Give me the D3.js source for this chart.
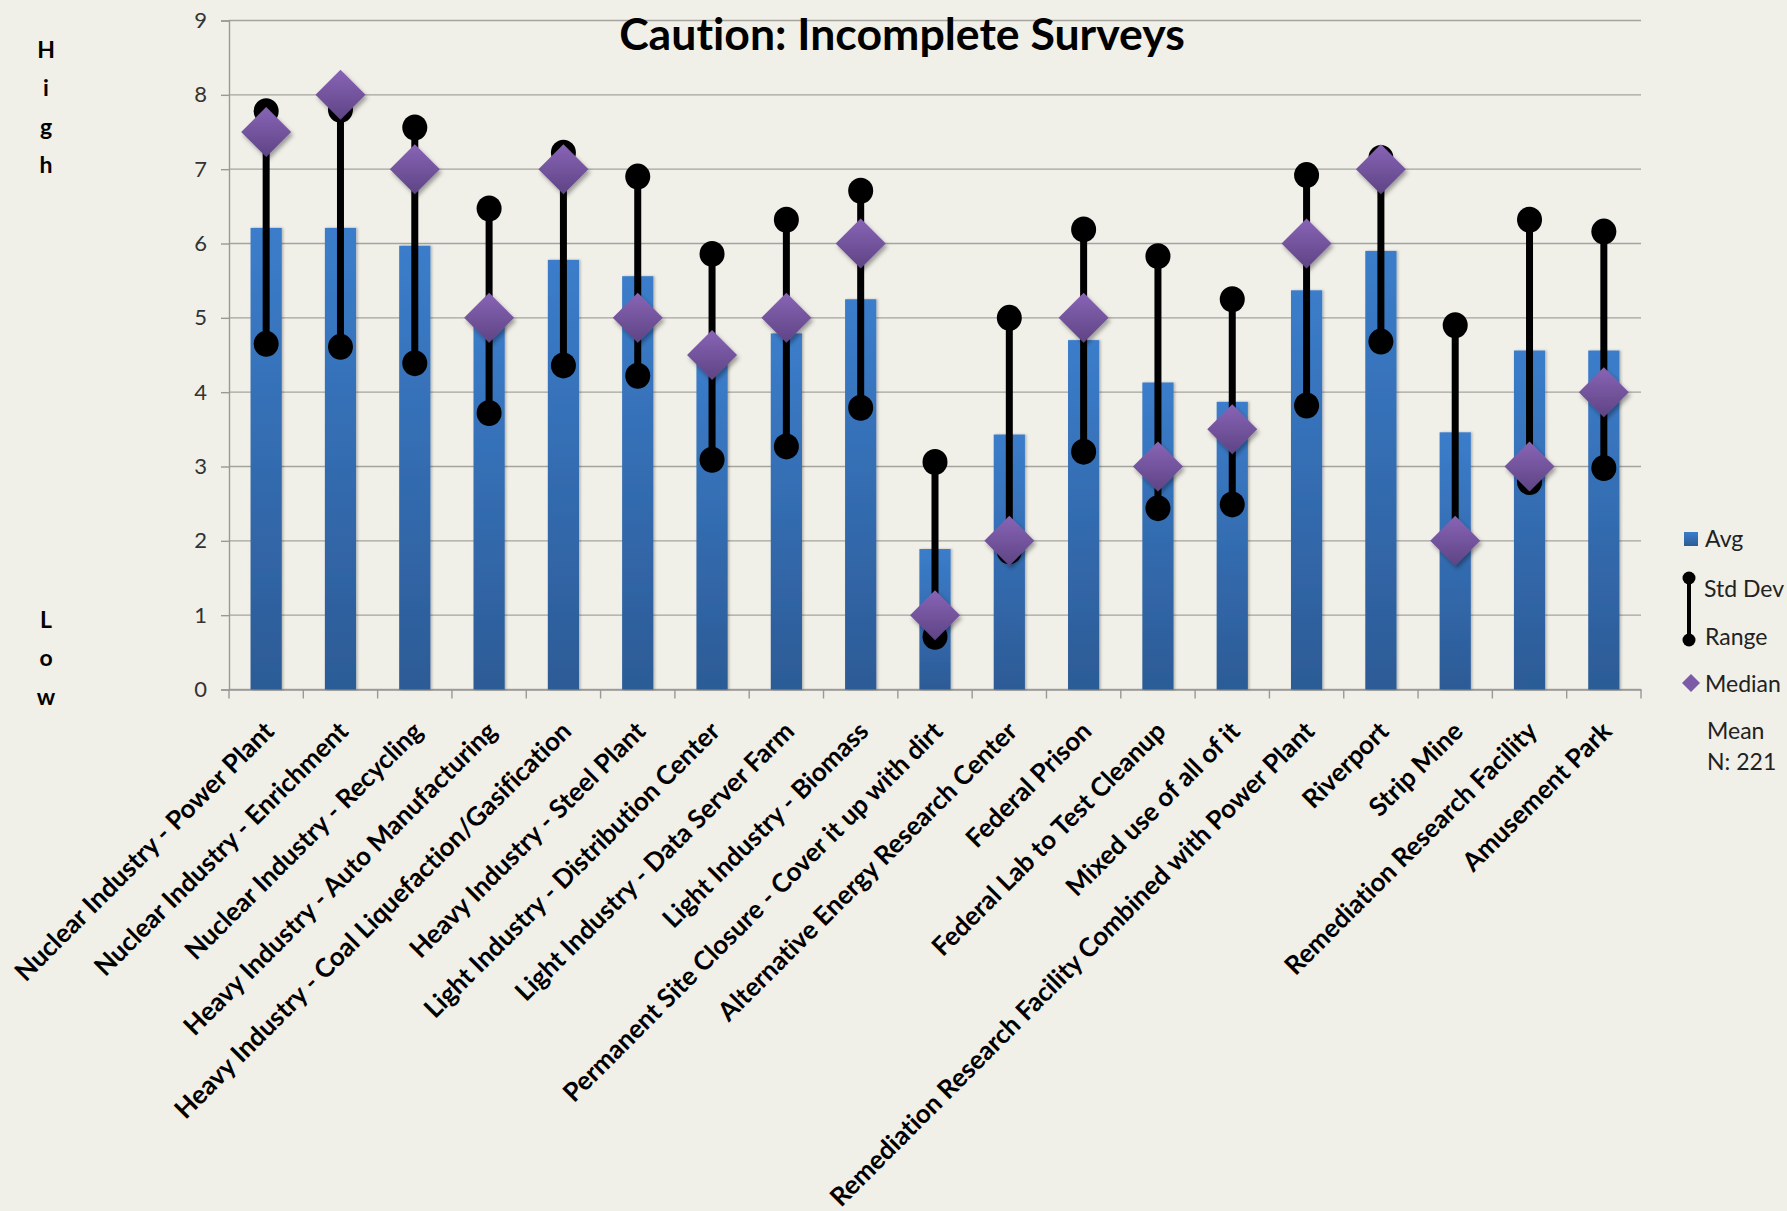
<!DOCTYPE html>
<html><head><meta charset="utf-8">
<script src="https://cdn.jsdelivr.net/npm/d3@7"></script>
<style>
html,body{margin:0;padding:0;background:#f0efe8;}
svg{display:block;}
text{font-variant-ligatures:none;}
</style>
</head><body>
<svg id="chart" width="1787" height="1211"></svg>
<script>
// ---------- DATA ----------
const categories = [
  "Nuclear Industry - Power Plant",
  "Nuclear Industry - Enrichment",
  "Nuclear Industry - Recycling",
  "Heavy Industry - Auto Manufacturing",
  "Heavy Industry - Coal Liquefaction/Gasification",
  "Heavy Industry - Steel Plant",
  "Light Industry - Distribution Center",
  "Light Industry - Data Server Farm",
  "Light Industry - Biomass",
  "Permanent Site Closure - Cover it up with dirt",
  "Alternative Energy Research Center",
  "Federal Prison",
  "Federal Lab to Test Cleanup",
  "Mixed use of all of it",
  "Remediation Research Facility Combined with Power Plant",
  "Riverport",
  "Strip Mine",
  "Remediation Research Facility",
  "Amusement Park"
];
const avgValues    = [6.21, 6.21, 5.97, 5.09, 5.78, 5.56, 4.47, 4.79, 5.25, 1.89, 3.43, 4.70, 4.13, 3.87, 5.37, 5.90, 3.46, 4.56, 4.56];
const stdDevUpper  = [7.78, 7.80, 7.56, 6.47, 7.22, 6.90, 5.86, 6.32, 6.71, 3.06, 5.00, 6.19, 5.83, 5.25, 6.92, 7.15, 4.90, 6.32, 6.16];
const stdDevLower  = [4.65, 4.61, 4.39, 3.72, 4.36, 4.22, 3.09, 3.27, 3.79, 0.71, 1.86, 3.20, 2.44, 2.49, 3.82, 4.68, 2.02, 2.79, 2.98];
const medianValues = [7.5, 8, 7, 5, 7, 5, 4.5, 5, 6, 1, 2, 5, 3, 3.5, 6, 7, 2, 3, 4];
const yTickValues  = [0, 1, 2, 3, 4, 5, 6, 7, 8, 9];
const titleText = "Caution: Incomplete Surveys";
const highLetters = ["H", "i", "g", "h"];
const lowLetters = ["L", "o", "w"];
const legendLabels = ["Avg", "Std Dev", "Range", "Median"];
const noteLines = ["Mean", "N: 221"];

// ---------- LAYOUT ----------
const W = 1787, H = 1211;
const plot = {left: 229, right: 1641, top: 20.5, bottom: 689.5};
const FONT = "Lato, 'Open Sans', 'DejaVu Sans', sans-serif";

const rows = categories.map((c, i) => ({
  cat: c, avg: avgValues[i], hi: stdDevUpper[i], lo: stdDevLower[i], med: medianValues[i]
}));

const svg = d3.select("#chart");
svg.append("rect").attr("width", W).attr("height", H).attr("fill", "#f0efe8");

const defs = svg.append("defs");
const bg = defs.append("linearGradient").attr("id", "barGrad")
  .attr("x1", 0).attr("y1", 0).attr("x2", 0).attr("y2", 1);
bg.append("stop").attr("offset", "0%").attr("stop-color", "#3b7dcb");
bg.append("stop").attr("offset", "100%").attr("stop-color", "#2c5b96");
const dg = defs.append("linearGradient").attr("id", "diaGrad")
  .attr("x1", 0).attr("y1", 0).attr("x2", 0).attr("y2", 1);
dg.append("stop").attr("offset", "0%").attr("stop-color", "#8864b6");
dg.append("stop").attr("offset", "100%").attr("stop-color", "#5e4484");
const sh = defs.append("filter").attr("id", "shadow")
  .attr("x", "-40%").attr("y", "-40%").attr("width", "180%").attr("height", "180%");
sh.append("feDropShadow").attr("dx", 2).attr("dy", 3).attr("stdDeviation", 2.2)
  .attr("flood-color", "#000").attr("flood-opacity", 0.35);
const bsh = defs.append("filter").attr("id", "barShadow")
  .attr("x", "-20%").attr("y", "-5%").attr("width", "140%").attr("height", "110%");
bsh.append("feDropShadow").attr("dx", 1.5).attr("dy", 0).attr("stdDeviation", 1.2)
  .attr("flood-color", "#000").attr("flood-opacity", 0.25);

const x = d3.scaleBand().domain(categories).range([plot.left, plot.right]).paddingInner(0).paddingOuter(0);
const y = d3.scaleLinear().domain([0, 9]).range([plot.bottom, plot.top]);
const barW = x.bandwidth() * 0.42;
const cx = d => x(d) + x.bandwidth() / 2;

// gridlines
svg.append("g").selectAll("line").data(yTickValues).join("line")
  .attr("x1", plot.left).attr("x2", plot.right)
  .attr("y1", d => y(d)).attr("y2", d => y(d))
  .attr("stroke", "#a4a39e").attr("stroke-width", 1.4);

// y axis
const yAxis = svg.append("g").attr("transform", `translate(${plot.left},0)`)
  .call(d3.axisLeft(y).tickValues(yTickValues).tickSize(8).tickPadding(14).tickFormat(d3.format("d")));
yAxis.select(".domain").attr("stroke", "#9a9994").attr("stroke-width", 1.4);
yAxis.selectAll(".tick line").attr("stroke", "#9a9994").attr("stroke-width", 1.4);
yAxis.selectAll(".tick text").attr("font-family", FONT).attr("font-size", 22).attr("fill", "#333");

// x axis (ticks between categories)
const xAxis = svg.append("g").attr("transform", `translate(0,${plot.bottom})`)
  .call(d3.axisBottom(x).tickSize(0).tickFormat(""));
xAxis.select(".domain").attr("stroke", "#9a9994").attr("stroke-width", 1.4);
const boundaries = categories.map(c => x(c)).concat([plot.right]);
svg.append("g").selectAll("line").data(boundaries).join("line")
  .attr("x1", d => d).attr("x2", d => d)
  .attr("y1", plot.bottom).attr("y2", plot.bottom + 9)
  .attr("stroke", "#9a9994").attr("stroke-width", 1.4);

// bars
svg.append("g").selectAll("rect").data(rows).join("rect")
  .attr("x", d => cx(d.cat) - barW / 2)
  .attr("y", d => y(d.avg))
  .attr("width", barW)
  .attr("height", d => y(0) - y(d.avg))
  .attr("fill", "url(#barGrad)")
  .attr("filter", "url(#barShadow)");

// std dev whiskers
const wg = svg.append("g");
wg.selectAll("line").data(rows).join("line")
  .attr("x1", d => cx(d.cat)).attr("x2", d => cx(d.cat))
  .attr("y1", d => y(d.hi)).attr("y2", d => y(d.lo))
  .attr("stroke", "#000").attr("stroke-width", 7);
wg.selectAll("ellipse.hi").data(rows).join("ellipse").attr("class", "hi")
  .attr("cx", d => cx(d.cat)).attr("cy", d => y(d.hi))
  .attr("rx", 12.5).attr("ry", 13).attr("fill", "#000");
wg.selectAll("ellipse.lo").data(rows).join("ellipse").attr("class", "lo")
  .attr("cx", d => cx(d.cat)).attr("cy", d => y(d.lo))
  .attr("rx", 12.5).attr("ry", 13).attr("fill", "#000");

// median diamonds
const dh = 25;
svg.append("g").selectAll("path").data(rows).join("path")
  .attr("d", d => {
    const px = cx(d.cat), py = y(d.med);
    return `M${px},${py - dh}L${px + dh},${py}L${px},${py + dh}L${px - dh},${py}Z`;
  })
  .attr("fill", "url(#diaGrad)")
  .attr("filter", "url(#shadow)");

// x labels
const xl = svg.append("g").selectAll("text").data(categories).join("text")
  .attr("transform", d => `translate(${cx(d) + 3},${plot.bottom + 37}) rotate(-45)`)
  .attr("text-anchor", "end")
  .attr("dy", "0.35em")
  .attr("font-family", FONT).attr("font-weight", "bold").attr("font-size", 22)
  .attr("fill", "#000")
  .text(d => d);
// fit the longest label to its length in the reference
let maxLen = 0;
xl.each(function() { maxLen = Math.max(maxLen, this.getComputedTextLength()); });
xl.attr("font-size", 22 * 672 / maxLen);

// title
const title = svg.append("text").attr("x", 902).attr("y", 50)
  .attr("text-anchor", "middle").attr("font-family", FONT).attr("font-weight", "bold")
  .attr("font-size", 40).attr("fill", "#000").text(titleText);
const tw = title.node().getComputedTextLength();
title.attr("font-size", 40 * 566 / tw);

// High / Low vertical labels
svg.append("g").selectAll("text").data(highLetters).join("text")
  .attr("x", 46).attr("y", (d, i) => 58 + i * 38.3)
  .attr("text-anchor", "middle").attr("font-family", FONT).attr("font-weight", "bold")
  .attr("font-size", 23).attr("fill", "#000").text(d => d);
svg.append("g").selectAll("text").data(lowLetters).join("text")
  .attr("x", 46).attr("y", (d, i) => 628 + i * 38.3)
  .attr("text-anchor", "middle").attr("font-family", FONT).attr("font-weight", "bold")
  .attr("font-size", 23).attr("fill", "#000").text(d => d);

// legend
const lg = svg.append("g").attr("font-family", FONT).attr("font-size", 23).attr("fill", "#222");
lg.append("rect").attr("x", 1684).attr("y", 532).attr("width", 14).attr("height", 14).attr("fill", "url(#barGrad)");
lg.append("text").attr("x", 1705).attr("y", 547).text(legendLabels[0]);
lg.append("line").attr("x1", 1689).attr("x2", 1689).attr("y1", 578).attr("y2", 640)
  .attr("stroke", "#000").attr("stroke-width", 4);
lg.append("circle").attr("cx", 1689).attr("cy", 578).attr("r", 6.5).attr("fill", "#000");
lg.append("circle").attr("cx", 1689).attr("cy", 640).attr("r", 6.5).attr("fill", "#000");
lg.append("text").attr("x", 1704).attr("y", 597).text(legendLabels[1]);
lg.append("text").attr("x", 1705).attr("y", 645).text(legendLabels[2]);
lg.append("path").attr("d", "M1691,674L1700,683L1691,692L1682,683Z").attr("fill", "#7b5aa8");
lg.append("text").attr("x", 1705).attr("y", 692).text(legendLabels[3]);
lg.append("g").selectAll("text").data(noteLines).join("text")
  .attr("x", 1707).attr("y", (d, i) => 739 + i * 31).text(d => d);
</script>
</body></html>
